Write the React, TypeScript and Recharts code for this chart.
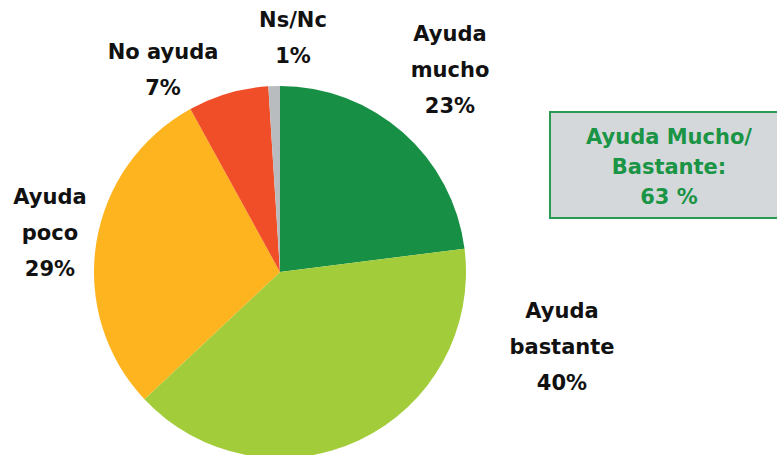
import { PieChart, Pie, Cell } from "recharts";

const categorias = ["Ayuda mucho", "Ayuda bastante", "Ayuda poco", "No ayuda", "Ns/Nc"];
const valores = [23, 40, 29, 7, 1];
const colores = ["#178F45", "#A3CC3A", "#FDB41E", "#F04E28", "#B9BCBF"];
// lineas de cada etiqueta
const etiquetas = [
  ["Ayuda", "mucho", "23%"],
  ["Ayuda", "bastante", "40%"],
  ["Ayuda", "poco", "29%"],
  ["No ayuda", "7%"],
  ["Ns/Nc", "1%"],
];
const resumen = ["Ayuda Mucho/", "Bastante:", "63 %"];

const datos = categorias.map((name, i) => ({ name, value: valores[i] }));

// posicion (centro del bloque de texto) relativa al centro de la tarta
const offsets = [
  { dx: 170, dy: -202 },
  { dx: 282, dy: 75 },
  { dx: -230, dy: -39 },
  { dx: -117, dy: -202 },
  { dx: 13, dy: -234 },
];

const LH = 36;

function renderLabel(props: any) {
  const { cx, cy, index } = props;
  const o = offsets[index];
  const lines = etiquetas[index];
  const y0 = cy + o.dy - ((lines.length - 1) * LH) / 2;
  return (
    <text
      key={`lbl-${index}`}
      x={cx + o.dx}
      y={y0}
      textAnchor="middle"
      dominantBaseline="central"
      fill="#111"
      fontSize={21}
      fontWeight="bold"
      fontFamily="'DejaVu Sans', sans-serif"
    >
      {lines.map((l, i) => (
        <tspan key={i} x={cx + o.dx} y={y0 + i * LH}>
          {l}
        </tspan>
      ))}
    </text>
  );
}

export default function App() {
  return (
    <div style={{ position: "absolute", left: 0, top: 0, width: 777, height: 455, background: "#fff", overflow: "hidden" }}>
      <PieChart width={777} height={455} margin={{ top: 0, right: 0, bottom: 0, left: 0 }}>
        <Pie
          data={datos}
          dataKey="value"
          cx={280}
          cy={272}
          outerRadius={186}
          startAngle={90}
          endAngle={-270}
          stroke="none"
          label={renderLabel}
          labelLine={false}
          isAnimationActive={false}
        >
          {datos.map((d, i) => (
            <Cell key={d.name} fill={colores[i]} />
          ))}
        </Pie>
      </PieChart>
      <div
        style={{
          position: "absolute",
          left: 549,
          top: 111,
          width: 240,
          height: 108,
          boxSizing: "border-box",
          border: "2px solid #2A9A50",
          background: "#D5D8DB",
          color: "#1A9445",
          fontFamily: "'DejaVu Sans', sans-serif",
          fontWeight: "bold",
          fontSize: 21,
          lineHeight: "30px",
          paddingTop: 9,
        }}
      >
        {resumen.map((l) => (
          <div key={l} style={{ width: 236, textAlign: "center" }}>
            {l}
          </div>
        ))}
      </div>
    </div>
  );
}
